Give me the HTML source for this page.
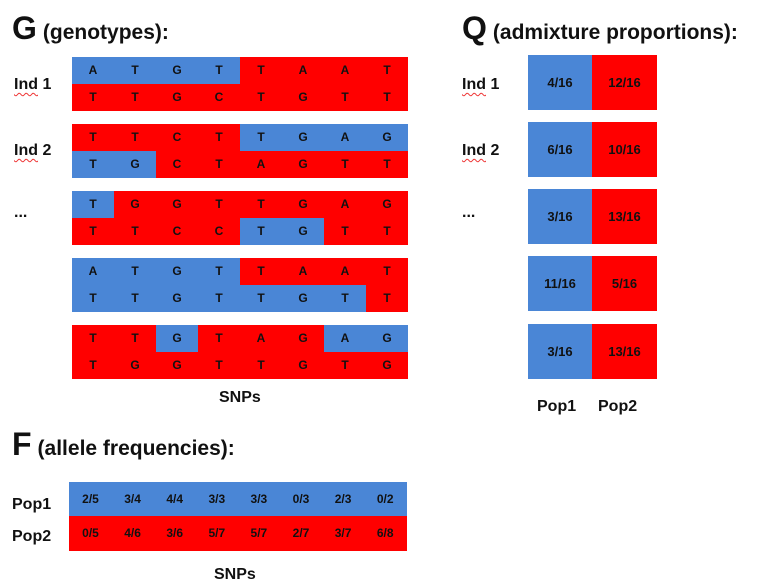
<!DOCTYPE html>
<html><head><meta charset="utf-8"><style>
body{margin:0;width:758px;height:588px;background:#fff;position:relative;overflow:hidden;font-family:"Liberation Sans",sans-serif;font-weight:bold;color:#111}
.a{position:absolute;white-space:nowrap}
.c{position:absolute;width:42px;height:27px;line-height:27px;text-align:center;font-size:12px}
.B{background:#4a86d6}.R{background:#ff0000}
.t{font-size:21px}.t b{font-size:32px;margin-right:6px}
.lab{font-size:16px}
.u{text-decoration:underline wavy #e33;text-decoration-thickness:1px;text-underline-offset:3px}
.q{position:absolute;width:64px;height:55px;line-height:55px;text-align:center;font-size:13px}
.f{position:absolute;width:42px;height:34px;line-height:34px;text-align:center;font-size:12px}
</style></head><body>
<div class="a t" style="left:12px;top:10px"><b>G</b>(genotypes):</div>
<div class="a t" style="left:462px;top:10px"><b>Q</b>(admixture proportions):</div>
<div class="a t" style="left:12px;top:426px"><b>F</b>(allele frequencies):</div>
<div class="a lab" style="left:14px;top:76px"><span class="u">Ind</span> 1</div>
<div class="a lab" style="left:14px;top:142px"><span class="u">Ind</span> 2</div>
<div class="a lab" style="left:14px;top:204px">...</div>
<div class="a lab" style="left:462px;top:76px"><span class="u">Ind</span> 1</div>
<div class="a lab" style="left:462px;top:142px"><span class="u">Ind</span> 2</div>
<div class="a lab" style="left:462px;top:204px">...</div>
<div class="a lab" style="left:219px;top:389px">SNPs</div>
<div class="a lab" style="left:537px;top:398px">Pop1</div>
<div class="a lab" style="left:598px;top:398px">Pop2</div>
<div class="a lab" style="left:12px;top:496px">Pop1</div>
<div class="a lab" style="left:12px;top:528px">Pop2</div>
<div class="a lab" style="left:214px;top:566px">SNPs</div>
<div id="g"></div><div id="q"></div><div id="f"></div>
<script>
var G=[["ATGTTAAT","BBBBRRRR","TTGCTGTT","RRRRRRRR"],
["TTCTTGAG","RRRRBBBB","TGCTAGTT","BBRRRRRR"],
["TGGTTGAG","BRRRRRRR","TTCCTGTT","RRRRBBRR"],
["ATGTTAAT","BBBBRRRR","TTGTTGTT","BBBBBBBR"],
["TTGTAGAG","RRBRRRBB","TGGTTGTG","RRRRRRRR"]];
var ys=[57,124,191,258,325],h="";
G.forEach(function(b,i){for(var r=0;r<2;r++)for(var k=0;k<8;k++)h+='<div class="c '+b[r*2+1][k]+'" style="left:'+(72+k*42)+'px;top:'+(ys[i]+r*27)+'px">'+b[r*2][k]+'</div>';});
var Q=[["4/16","12/16"],["6/16","10/16"],["3/16","13/16"],["11/16","5/16"],["3/16","13/16"]],qy=[55,122,189,256,324];
Q.forEach(function(p,i){h+='<div class="q B" style="left:528px;top:'+qy[i]+'px">'+p[0]+'</div><div class="q R" style="left:592px;top:'+qy[i]+'px;width:65px">'+p[1]+'</div>';});
var F1="2/5 3/4 4/4 3/3 3/3 0/3 2/3 0/2".split(" "),F2="0/5 4/6 3/6 5/7 5/7 2/7 3/7 6/8".split(" ");
for(var k=0;k<8;k++){h+='<div class="f B" style="left:'+(69+k*42.1)+'px;top:482px;width:43px">'+F1[k]+'</div><div class="f R" style="left:'+(69+k*42.1)+'px;top:516px;width:43px;height:35px">'+F2[k]+'</div>';}
document.getElementById('g').innerHTML=h;
</script>
</body></html>
